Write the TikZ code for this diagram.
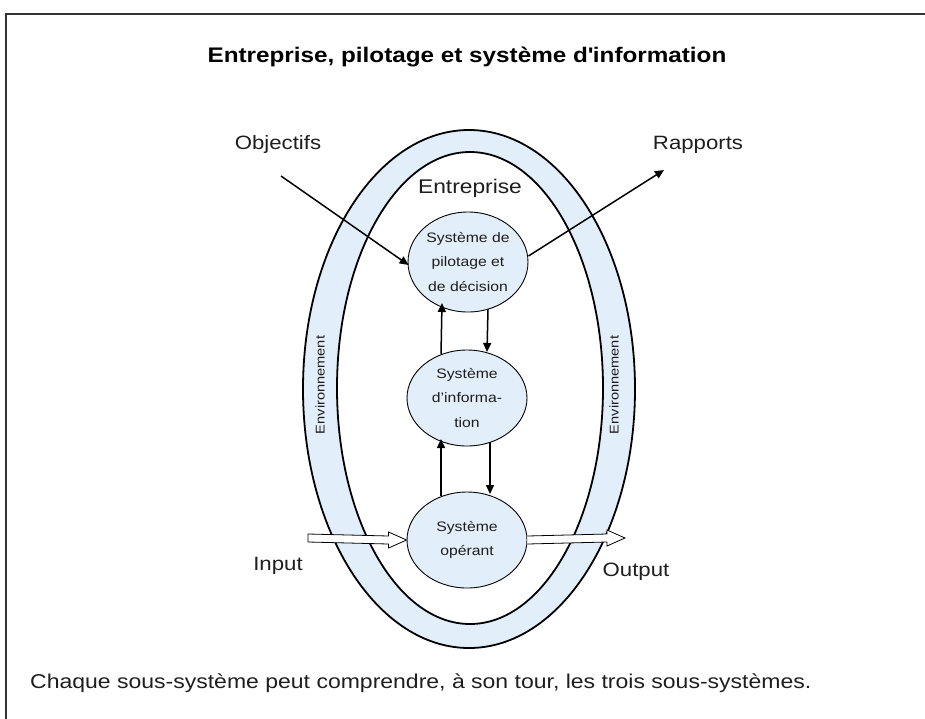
\documentclass[tikz,border=0pt]{standalone}
\usepackage{fontspec}
\setmainfont{Liberation Sans}[FakeStretch=1.15]
\usetikzlibrary{calc,arrows.meta,shapes.geometric}
\definecolor{ringblue}{RGB}{226,239,250}
\definecolor{txtgray}{RGB}{30,30,30}
\tikzset{
  sysbox/.style={ellipse,draw=black,line width=0.9pt,fill=ringblue,minimum width=120pt,minimum height=98pt,inner sep=0pt,align=center,font=\fontsize{13.7}{24.5}\selectfont,text=txtgray},
  lbl/.style={font=\fontsize{19.3}{24}\selectfont,text=txtgray,inner sep=0pt},
  envlbl/.style={font=\fontsize{12.7}{15}\selectfont,text=txtgray,inner sep=0pt,rotate=90},
  flow/.style={line width=1.5pt,-{Triangle[length=9pt,width=8pt]}},
  hollow/.style={draw=black,line width=0.8pt,fill=white}
}
\begin{document}
\begin{tikzpicture}[x=1pt,y=-1pt]
\useasboundingbox (0,0) rectangle (925,718);
% frame
\draw[line width=1.2pt,draw=black!80] (6,730) -- (6,14) -- (935,14);
% title
\node[font=\bfseries\fontsize{21.1}{25}\selectfont,inner sep=0pt] (title) at (467,57) {Entreprise, pilotage et système d\textquotesingle information};
% environment ring
\draw[line width=1.8pt,fill=ringblue] (469,389) ellipse [x radius=166,y radius=259];
\draw[line width=1.8pt,fill=white] (470,388) ellipse [x radius=133,y radius=236];
\node[envlbl] (envL) at (320,385) {Environnement};
\node[envlbl] (envR) at (614,385) {Environnement};
\node[lbl,font=\fontsize{19.8}{24}\selectfont] (ent) at (470,188) {Entreprise};
% subsystems
\node[sysbox,minimum height=100pt] (sys1) at (468,262) {Système de\\pilotage et\\de décision};
\node[sysbox,minimum height=96pt] (sys2) at (467,398) {Système\\d’informa-\\tion};
\node[sysbox,minimum height=96pt] (sys3) at (467,540) {Système\\opérant};
% vertical arrows
\draw[flow] ($(sys2.center)+(-26,-44)$) -- ($(sys1.center)+(-26,41)$);
\draw[flow] ($(sys1.center)+(20,47)$) -- ($(sys2.center)+(20,-46)$);
\draw[flow] ($(sys3.center)+(-26,-44)$) -- ($(sys2.center)+(-26,41)$);
\draw[flow] ($(sys2.center)+(23,44)$) -- ($(sys3.center)+(23,-46)$);
% objectifs / rapports
\node[lbl] (obj) at (278,145) {Objectifs};
\node[lbl] (rap) at (698,145) {Rapports};
\coordinate (objS) at (281,176);
\coordinate (rapE) at (664,170);
\draw[flow] (objS) -- ($(sys1.west)+(1,3)$);
\draw[flow] ($(sys1.east)+(0,-6)$) -- (rapE);
% input / output
\node[lbl] (inp) at (278,566) {Input};
\node[lbl] (outp) at (636,572) {Output};
\coordinate (inS) at (308,538);
\coordinate (outE) at (625,538);
\draw[hollow] ($(inS)+(0,-4)$) -- ($(sys3.west)+(-18,-4)$) -- ($(sys3.west)+(-18,-8)$) -- (sys3.west)
  -- ($(sys3.west)+(-18,8)$) -- ($(sys3.west)+(-18,4)$) -- ($(inS)+(0,4)$) -- cycle;
\draw[hollow] ($(sys3.east)+(0,-4)$) -- ($(outE)+(-18,-4)$) -- ($(outE)+(-18,-8)$) -- (outE)
  -- ($(outE)+(-18,8)$) -- ($(outE)+(-18,4)$) -- ($(sys3.east)+(0,4)$);
% note
\node[lbl,anchor=west,font=\fontsize{20}{24}\selectfont] (note) at (30,683) {Chaque sous-système peut comprendre, à son tour, les trois sous-systèmes.};
\end{tikzpicture}
\end{document}
